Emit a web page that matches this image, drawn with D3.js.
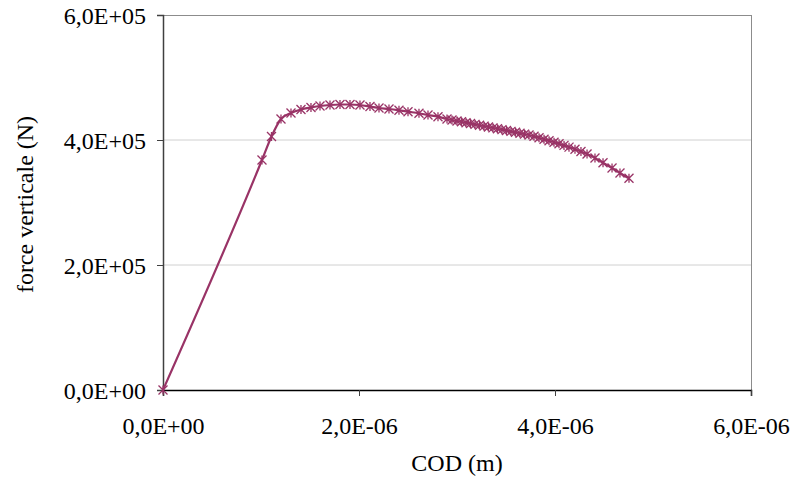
<!DOCTYPE html>
<html><head><meta charset="utf-8">
<script src="https://cdn.jsdelivr.net/npm/d3@7"></script>
<style>html,body{margin:0;padding:0;background:#fff}</style>
</head><body>
<svg id="c" width="793" height="495"></svg>
<script>
// COD (m), in units of 1e-6
const codMicro = [0, 1.010, 1.107, 1.204, 1.306, 1.408, 1.510, 1.602, 1.704, 1.806, 1.908, 2.010, 2.112, 2.204, 2.306, 2.408, 2.500, 2.612, 2.704, 2.806, 2.898,
  2.949, 3.000, 3.046, 3.092, 3.138, 3.184, 3.230, 3.276, 3.321, 3.367, 3.413, 3.459, 3.505, 3.551, 3.597, 3.643, 3.689, 3.735,
  3.786, 3.837, 3.888, 3.939, 3.990, 4.041, 4.092, 4.143, 4.204, 4.265, 4.327, 4.408, 4.490, 4.582, 4.663, 4.755];
// vertical force (N), in units of 1e5
const forceE5 = [0, 3.680, 4.056, 4.336, 4.432, 4.488, 4.520, 4.544, 4.560, 4.568, 4.568, 4.560, 4.536, 4.512, 4.496, 4.475, 4.453, 4.427, 4.400, 4.373, 4.336,
  4.320, 4.304, 4.291, 4.277, 4.264, 4.250, 4.235, 4.222, 4.208, 4.194, 4.179, 4.166, 4.152, 4.138, 4.123, 4.109, 4.094, 4.080,
  4.059, 4.037, 4.013, 3.989, 3.965, 3.939, 3.914, 3.886, 3.853, 3.816, 3.776, 3.712, 3.635, 3.552, 3.472, 3.387];
const xTicks = [0, 2e-6, 4e-6, 6e-6];
const xTickLabels = ["0,0E+00", "2,0E-06", "4,0E-06", "6,0E-06"];
const yTicks = [0, 2e5, 4e5, 6e5];
const yTickLabels = ["0,0E+00", "2,0E+05", "4,0E+05", "6,0E+05"];
const xTitle = "COD (m)";
const yTitle = "force verticale (N)";

const data = codMicro.map((c, i) => ({x: c * 1e-6, y: forceE5[i] * 1e5}));

const svg = d3.select("#c");
const L = 163, R = 751, T = 15, B = 390;
const x = d3.scaleLinear().domain([0, 6e-6]).range([L, R]);
const y = d3.scaleLinear().domain([0, 6e5]).range([B, T]);
const font = "'Liberation Serif','Times New Roman',serif";
const fs = 24;
const col = "#993366";

// gridlines
svg.append("g").selectAll("line").data(yTicks.filter(v => v > 0 && v < 6e5)).join("line")
  .attr("x1", L).attr("x2", R).attr("y1", d => y(d)).attr("y2", d => y(d))
  .attr("stroke", "#d0d0d0").attr("stroke-width", 1);
// frame top/right
svg.append("line").attr("x1", L).attr("x2", R).attr("y1", T + 0.5).attr("y2", T + 0.5).attr("stroke", "#8c8c8c");
svg.append("line").attr("x1", R + 0.5).attr("x2", R + 0.5).attr("y1", T).attr("y2", B).attr("stroke", "#8c8c8c");

// axes
const yAxis = d3.axisLeft(y).tickValues(yTicks).tickSize(6).tickFormat((d, i) => yTickLabels[i]);
const gy = svg.append("g").attr("transform", `translate(${L},0)`).call(yAxis);
gy.select(".domain").attr("stroke", "#404040").attr("stroke-width", 1.5);
gy.selectAll(".tick line").attr("stroke", "#404040");
gy.selectAll(".tick text").attr("font-family", font).attr("font-size", fs).attr("fill", "#000").attr("x", -17).attr("dy", "0.34em");

const xAxis = d3.axisBottom(x).tickValues(xTicks).tickSize(6).tickFormat((d, i) => xTickLabels[i]);
const gx = svg.append("g").attr("transform", `translate(0,${B})`).call(xAxis);
gx.select(".domain").attr("stroke", "#000").attr("stroke-width", 1.5);
gx.selectAll(".tick line").attr("stroke", "#404040");
gx.selectAll(".tick text").attr("font-family", font).attr("font-size", fs).attr("fill", "#000").attr("y", 27).attr("dy", "0.71em");

// titles
svg.append("text").attr("x", 457).attr("y", 471).attr("text-anchor", "middle")
  .attr("font-family", font).attr("font-size", fs).text(xTitle);
svg.append("text").attr("transform", `translate(33,${(T + B) / 2 + 2}) rotate(-90)`).attr("text-anchor", "middle")
  .attr("font-family", font).attr("font-size", fs).text(yTitle);

// line
const line = d3.line().x(d => x(d.x)).y(d => y(d.y)).curve(d3.curveMonotoneX);
svg.append("path").datum(data).attr("d", line).attr("fill", "none").attr("stroke", col).attr("stroke-width", 2.2);

// star markers
const m = 4.5;
svg.append("g").selectAll("path").data(data).join("path")
  .attr("transform", d => `translate(${x(d.x)},${y(d.y)})`)
  .attr("d", `M${-m},${-m}L${m},${m}M${-m},${m}L${m},${-m}M0,${-m}L0,${m}`)
  .attr("stroke", col).attr("stroke-width", 1.3).attr("fill", "none");
</script>
</body></html>
